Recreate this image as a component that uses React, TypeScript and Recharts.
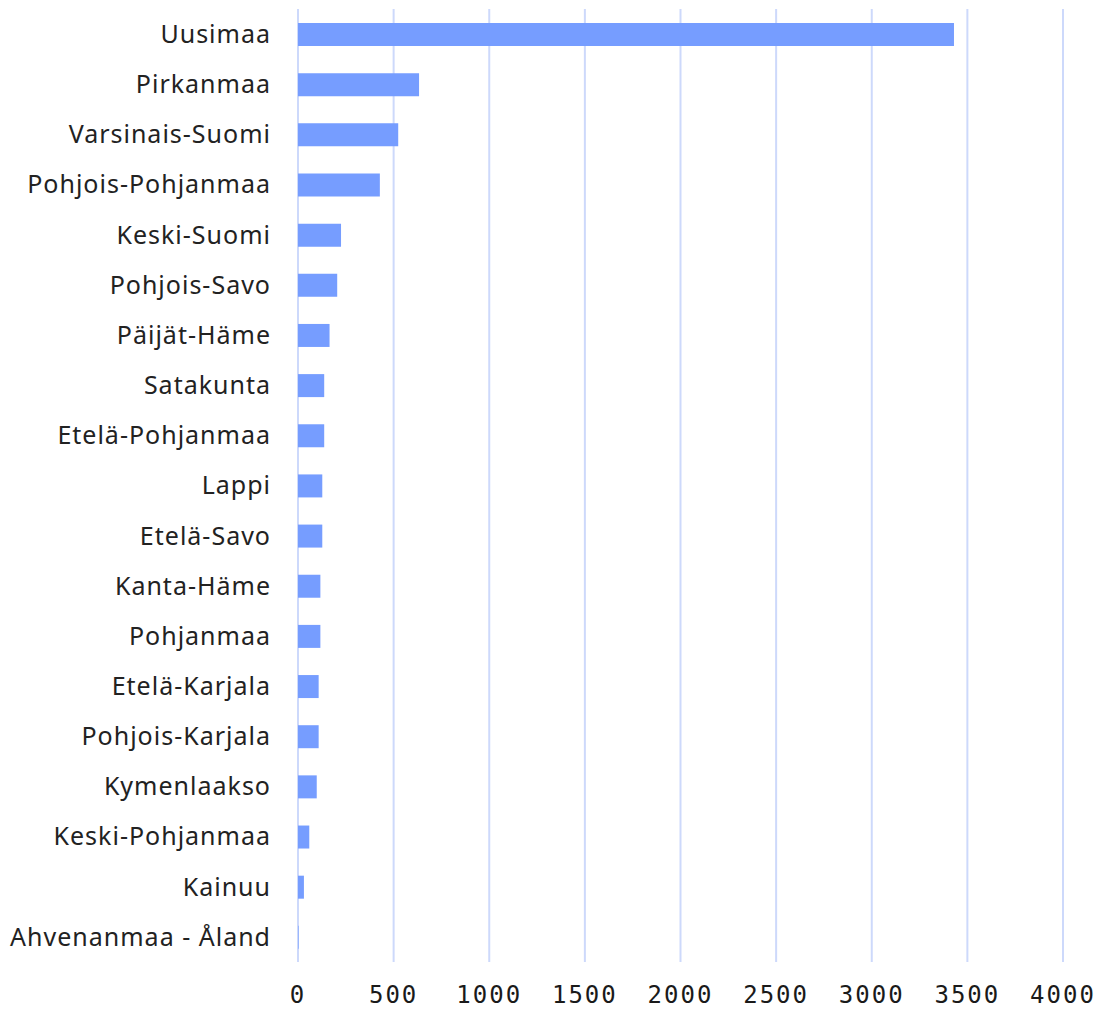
import { BarChart, Bar, XAxis, YAxis, CartesianGrid } from "recharts";

const regions = [
  "Uusimaa",
  "Pirkanmaa",
  "Varsinais-Suomi",
  "Pohjois-Pohjanmaa",
  "Keski-Suomi",
  "Pohjois-Savo",
  "Päijät-Häme",
  "Satakunta",
  "Etelä-Pohjanmaa",
  "Lappi",
  "Etelä-Savo",
  "Kanta-Häme",
  "Pohjanmaa",
  "Etelä-Karjala",
  "Pohjois-Karjala",
  "Kymenlaakso",
  "Keski-Pohjanmaa",
  "Kainuu",
  "Ahvenanmaa - Åland",
];

const counts = [
  3430, 633, 524, 428, 225, 205, 165, 137, 137, 127, 127, 117, 117, 108, 108,
  98, 59, 31, 3,
];

const xTicks = [0, 500, 1000, 1500, 2000, 2500, 3000, 3500, 4000];

const data = regions.map((name, i) => ({ name, value: counts[i] }));

export default function App() {
  return (
    <div>
      <style>{`body { margin: 0; }`}</style>
      <BarChart
        width={1101}
        height={1009}
        data={data}
        layout="vertical"
        margin={{ top: 9, right: 38, left: 0, bottom: 0 }}
      >
        <CartesianGrid
          horizontal={false}
          stroke="#cdd9fb"
          strokeWidth={2}
        />
        <XAxis
          type="number"
          domain={[0, 4000]}
          ticks={xTicks}
          height={47}
          axisLine={false}
          tickLine={false}
          tickSize={0}
          tickMargin={24}
          tick={{
            fontFamily: "DejaVu Sans Mono",
            fontSize: 24,
            fill: "#1a1a1a",
            letterSpacing: 2,
          }}
        />
        <YAxis
          type="category"
          dataKey="name"
          width={298}
          axisLine={false}
          tickLine={false}
          tickSize={0}
          tickMargin={27}
          interval={0}
          tick={{
            fontFamily: "Noto Sans",
            fontSize: 25,
            fill: "#222222",
            letterSpacing: 1,
          }}
        />
        <Bar
          dataKey="value"
          fill="#769dff"
          barSize={23}
          isAnimationActive={false}
        />
      </BarChart>
    </div>
  );
}
